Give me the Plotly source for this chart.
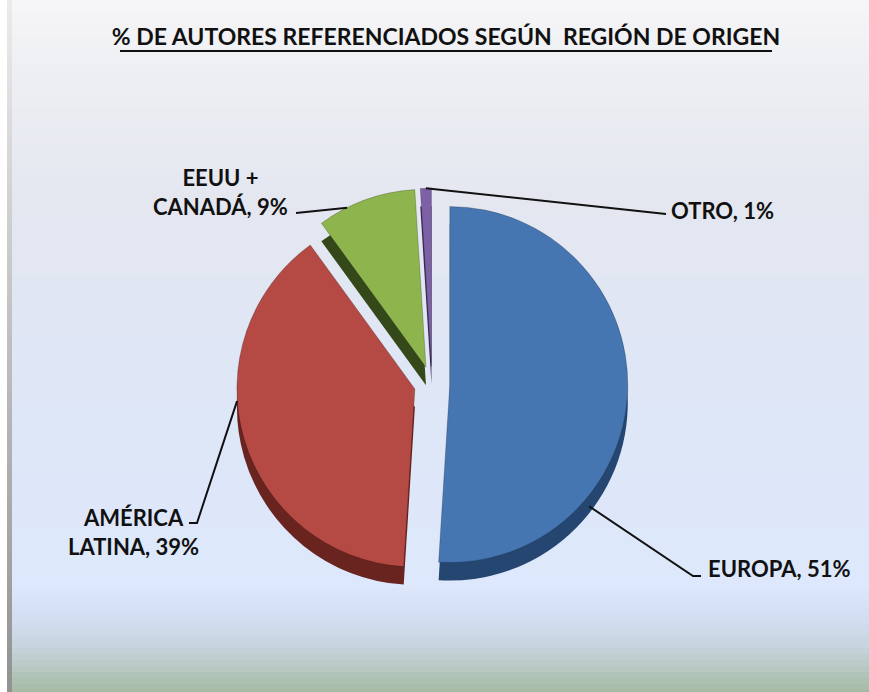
import math
import plotly.graph_objects as go

# ---------------- data ----------------
regions = ["EUROPA", "AMÉRICA LATINA", "EEUU + CANADÁ", "OTRO"]
region_display = ["EUROPA", "AMÉRICA<br>LATINA", "EEUU +<br>CANADÁ", "OTRO"]
percent = [51, 39, 9, 1]
title_text = "% DE AUTORES REFERENCIADOS SEGÚN  REGIÓN DE ORIGEN"

# ---------------- style ----------------
W, H = 869, 692
top_colors = ["#4676b2", "#b54a45", "#8eb44e", "#7c61a6"]
side_colors = ["#244670", "#6a2420", "#34481a", "#3e2c58"]
CX, CY, R = 432, 384, 178
PULL = 0.10
DEPTH = 18
FONT = "Lato"

# label placement (pixel layout) and where each leader line meets its slice
label_pos = [(706, 568, "left", "middle"), (133, 532, "center", "middle"),
             (220, 192, "center", "middle"), (669, 210, "left", "middle")]
anchor_frac = [0.70, 0.60, 0.30, 0.5]
anchor_depth = [0.6, 0.3, 0.0, 0.0]
elbows = [[(693, 576), (701, 576)], [(197, 523), (189, 523)],
          [(296, 213)], [(666, 214)]]


def px(x):
    return x / W


def py(y):
    return 1 - y / H


def hex2rgb(h):
    h = h.lstrip("#")
    return tuple(int(h[i:i + 2], 16) for i in (0, 2, 4))


def lerp_color(stops, y):
    for (y0, c0), (y1, c1) in zip(stops[:-1], stops[1:]):
        if y0 <= y <= y1:
            t = (y - y0) / (y1 - y0) if y1 > y0 else 0
            a, b = hex2rgb(c0), hex2rgb(c1)
            return "rgb(%d,%d,%d)" % tuple(round(a[i] + (b[i] - a[i]) * t) for i in range(3))
    return stops[-1][1]


bg_stops = [(0, "#f6f6f8"), (70, "#eeeff3"), (200, "#e4e7f0"), (350, "#dfe6f5"),
            (585, "#dde8fc"), (620, "#d2ddf1"), (650, "#c4d3da"), (692, "#a5baa3")]

shapes = []
# gradient background
band = 6
for y in range(0, H, band):
    shapes.append(dict(type="rect", xref="paper", yref="paper", layer="below",
                       x0=px(12), x1=1.01, y0=py(min(H, y + band + 1)), y1=py(y),
                       fillcolor=lerp_color(bg_stops, y + band / 2), line=dict(width=0)))
# left shadow strip
for y in range(0, H, band):
    t = y / H
    g = round(235 - 90 * t)
    shapes.append(dict(type="rect", xref="paper", yref="paper", layer="below",
                       x0=px(7), x1=px(12), y0=py(min(H, y + band + 1)), y1=py(y),
                       fillcolor="rgb(%d,%d,%d)" % (g, g, g), line=dict(width=0)))

# title underline
shapes.append(dict(type="line", xref="paper", yref="paper", x0=px(120), x1=px(772),
                   y0=py(51), y1=py(51), line=dict(color="#111111", width=2)))

# ---------------- pie geometry ----------------
half = R * (1 + PULL)
dom_x = [(CX - half) / W, (CX + half) / W]

total = sum(percent)
starts, ends = [], []
acc = 0
for v in percent:
    starts.append(acc / total)
    acc += v
    ends.append(acc / total)

# leader lines from slice edge (computed from data) to label
for i in range(len(percent)):
    mid = 2 * math.pi * (starts[i] + ends[i]) / 2
    a = 2 * math.pi * (starts[i] + anchor_frac[i] * (ends[i] - starts[i]))
    ox, oy = PULL * R * math.sin(mid), -PULL * R * math.cos(mid)
    axp = CX + ox + R * math.sin(a)
    ayp = CY + oy - R * math.cos(a) + anchor_depth[i] * DEPTH
    pts = [(axp, ayp)] + elbows[i]
    path = "M " + " L ".join("%f,%f" % (px(x), py(y)) for x, y in pts)
    shapes.append(dict(type="path", xref="paper", yref="paper", path=path,
                       line=dict(color="#111111", width=2)))

fig = go.Figure()
# 3D side (shadow copy shifted down)
fig.add_trace(go.Pie(
    labels=regions, values=percent, sort=False, direction="clockwise", rotation=0,
    pull=PULL, textinfo="none", hoverinfo="skip",
    marker=dict(colors=side_colors, line=dict(width=0)),
    domain=dict(x=dom_x, y=[1 - (CY + DEPTH + half) / H, 1 - (CY + DEPTH - half) / H]),
    showlegend=False))
# top faces
fig.add_trace(go.Pie(
    labels=regions, values=percent, sort=False, direction="clockwise", rotation=0,
    pull=PULL, textinfo="none", hovertemplate="%{label}: %{value}%<extra></extra>",
    marker=dict(colors=top_colors, line=dict(width=0.6, color="rgba(0,0,0,0.35)")),
    domain=dict(x=dom_x, y=[1 - (CY + half) / H, 1 - (CY - half) / H]),
    showlegend=False))

annotations = []
for i, name in enumerate(region_display):
    x, y, xa, ya = label_pos[i]
    annotations.append(dict(x=px(x), y=py(y), xref="paper", yref="paper",
                            text="<b>%s, %d%%</b>" % (name, percent[i]),
                            showarrow=False, xanchor=xa, yanchor=ya, align="center",
                            font=dict(family=FONT, size=22, color="#111111")))

fig.update_layout(
    width=W, height=H, autosize=False,
    margin=dict(l=0, r=0, t=0, b=0),
    paper_bgcolor="#ffffff",
    title=dict(text="<b>" + title_text + "</b>", x=px(446), xanchor="center",
               y=py(37), yanchor="middle",
               font=dict(family=FONT, size=23, color="#111111")),
    shapes=shapes, annotations=annotations,
)

fig.write_html("out.html", config={"displayModeBar": False},
               post_script="document.body.style.margin='0';"
                           "document.body.style.overflow='hidden';"
                           "document.documentElement.style.overflow='hidden';")
